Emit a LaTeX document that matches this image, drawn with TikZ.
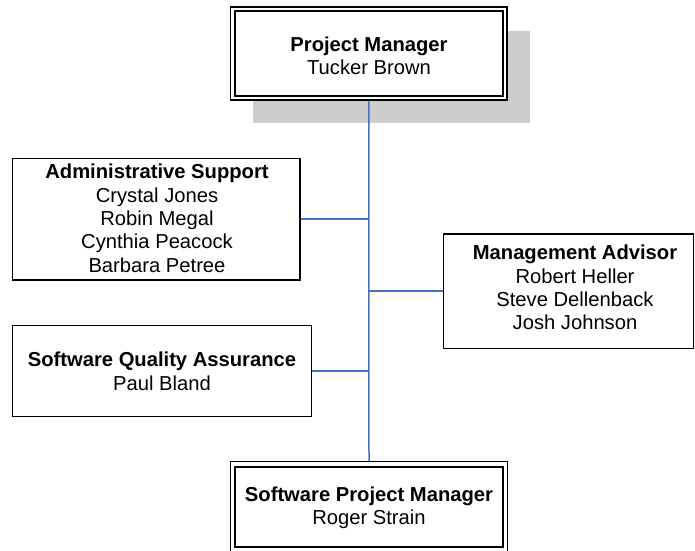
\documentclass[tikz,border=0pt]{standalone}
\usepackage{fontspec}
\setmainfont{Liberation Sans}
\definecolor{linkblue}{RGB}{68,114,196}
\definecolor{shadowgray}{RGB}{204,204,204}
\begin{document}
\begin{tikzpicture}[x=1pt,y=-1pt,
  outerbox/.style={draw=black,line width=1.1pt,inner sep=0pt},
  innerbox/.style={draw=black,line width=2.4pt,inner sep=0pt},
  plainbox/.style={draw=black,line width=1.5pt,inner sep=0pt},
  txt/.style={align=center,inner sep=0pt,font=\fontsize{20.2}{23.3}\selectfont},
  link/.style={draw=linkblue,line width=1.5pt}]
\useasboundingbox (0,0) rectangle (695,550);
% shadow
\fill[shadowgray] (253,31) rectangle (530,123);
% Project Manager
\node[outerbox,fill=white,minimum width=276.5pt,minimum height=93pt] (pm) at (368.75,53.5) {};
\node[innerbox,minimum width=268pt,minimum height=84.5pt] (pmin) at (pm.center) {};
\node[txt] (pmtxt) at (369,55.5) {\textbf{Project Manager}\\Tucker Brown};
% Software Project Manager
\node[outerbox,minimum width=276.6pt,minimum height=90pt] (spm) at (369,506.7) {};
\node[innerbox,minimum width=268pt,minimum height=80.3pt] (spmin) at (369,506.85) {};
\node[txt] (spmtxt) at (369,507.7) {\textbf{Software Project Manager}\\Roger Strain};
% Administrative Support
\node[plainbox,minimum width=287.3pt,minimum height=121.7pt] (admin) at (156.35,219.15) {};
\node[txt] (admintxt) at (157,218.3) {\textbf{Administrative Support}\\Crystal Jones\\Robin Megal\\Cynthia Peacock\\Barbara Petree};
% Management Advisor
\node[plainbox,minimum width=250pt,minimum height=114.3pt] (ma) at (568.3,291.15) {};
\node[txt] (matxt) at (575,287.7) {\textbf{Management Advisor}\\Robert Heller\\Steve Dellenback\\Josh Johnson};
% Software Quality Assurance
\node[plainbox,minimum width=299pt,minimum height=91.4pt] (sqa) at (162.2,371) {};
\node[txt] (sqatxt) at (162,371.3) {\textbf{Software Quality Assurance}\\Paul Bland};
% connectors
\draw[link] (pm.south) -- (spm.north);
\draw[link] (admin.east) -- (admin.east -| pm.south);
\draw[link] (ma.west) -- (ma.west -| pm.south);
\draw[link] (sqa.east) -- (sqa.east -| pm.south);
\end{tikzpicture}
\end{document}
